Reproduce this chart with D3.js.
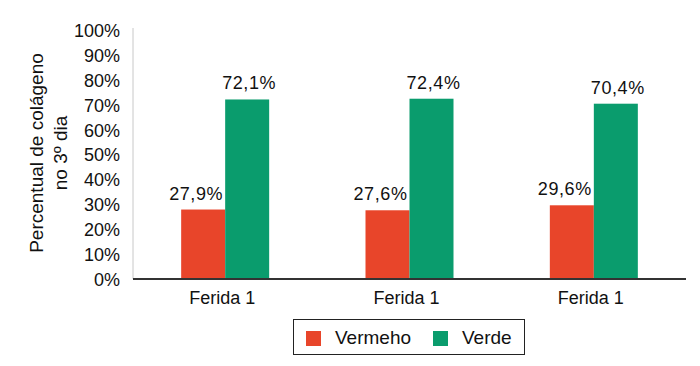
<!DOCTYPE html>
<html><head><meta charset="utf-8">
<script src="https://cdn.jsdelivr.net/npm/d3@7"></script>
<style>body{margin:0;background:#fff}svg{display:block}text{font-family:"Liberation Sans",Arial,Helvetica,sans-serif;fill:#111}</style>
</head><body>
<svg id="c" width="700" height="366"></svg>
<script>
const categories = ["Ferida 1", "Ferida 1", "Ferida 1"];
const seriesNames = ["Vermeho", "Verde"];
const vermelho = [27.9, 27.6, 29.6];
const verde = [72.1, 72.4, 70.4];
const valueLabels = [["27,9%", "27,6%", "29,6%"], ["72,1%", "72,4%", "70,4%"]];
const yTicks = [0,10,20,30,40,50,60,70,80,90,100];
const colors = ["#E8452A", "#0A9C6D"];

(function(){
const svg = d3.select("#c");
const mL = 133, mR = 686, mT = 30, mB = 279;
const idx = categories.map((c, i) => i);
const x = d3.scaleBand().domain(idx).range([mL, mR]).paddingInner(0).paddingOuter(0);
const y = d3.scaleLinear().domain([0, 100]).range([mB, mT]);
const barW = 44;
const xs = d3.scaleBand().domain(seriesNames).range([0, barW*2]);

svg.append("line").attr("x1", mL).attr("x2", mL).attr("y1", mT - 2).attr("y2", mB)
  .attr("stroke", "#c8c8c8").attr("stroke-width", 1);

const yAxis = d3.axisLeft(y).tickValues(yTicks).tickFormat(d => d + "%").tickSize(0).tickPadding(13);
const ga = svg.append("g").attr("transform", `translate(${mL},0)`).call(yAxis);
ga.select(".domain").remove();
ga.selectAll("text").attr("font-size", 18).attr("dy", "0.36em").style("font-family", '"Liberation Sans",Arial,sans-serif').attr("fill", "#111");

const series = [vermelho, verde];
series.forEach((vals, si) => {
  svg.append("g").selectAll("rect").data(vals).join("rect")
    .attr("x", (d, i) => x(i) + x.bandwidth()/2 - barW + xs(seriesNames[si]))
    .attr("y", d => y(d))
    .attr("width", xs.bandwidth())
    .attr("height", d => y(0) - y(d))
    .attr("fill", colors[si]);
  svg.append("g").selectAll("text").data(vals).join("text")
    .attr("x", (d, i) => x(i) + x.bandwidth()/2 - barW + xs(seriesNames[si]) + xs.bandwidth()/2 + (si === 0 ? -7 : 2))
    .attr("y", d => y(d) - 10)
    .attr("text-anchor", "middle")
    .attr("font-size", 18)
    .attr("letter-spacing", 0.6)
    .text((d, i) => valueLabels[si][i]);
});

svg.append("line").attr("x1", mL).attr("x2", mR).attr("y1", mB).attr("y2", mB)
  .attr("stroke", "#333").attr("stroke-width", 2);

const xAxis = d3.axisBottom(x).tickSize(0).tickPadding(12).tickFormat(i => categories[i]);
const gx = svg.append("g").attr("transform", `translate(-3,${mB})`).call(xAxis);
gx.select(".domain").remove();
gx.selectAll("text").attr("font-size", 18).style("font-family", '"Liberation Sans",Arial,sans-serif').attr("fill", "#111");

const yt = svg.append("text").attr("transform", "translate(43,153) rotate(-90)").attr("text-anchor", "middle").attr("font-size", 19);
yt.append("tspan").attr("x", 0).attr("dy", 0).text("Percentual de colágeno");
yt.append("tspan").attr("x", 0).attr("dy", 24).text("no 3º dia");

const lg = svg.append("g");
lg.append("rect").attr("x", 293.5).attr("y", 319.5).attr("width", 231).attr("height", 35).attr("fill", "none").attr("stroke", "#222").attr("stroke-width", 1);
const legendItems = [{x: 306, tx: 335}, {x: 433, tx: 462}];
seriesNames.forEach((n, i) => {
  lg.append("rect").attr("x", legendItems[i].x).attr("y", 331).attr("width", 15).attr("height", 15).attr("fill", colors[i]);
  lg.append("text").attr("x", legendItems[i].tx).attr("y", 344).attr("font-size", 19).text(n);
});
})();
</script>
</body></html>
